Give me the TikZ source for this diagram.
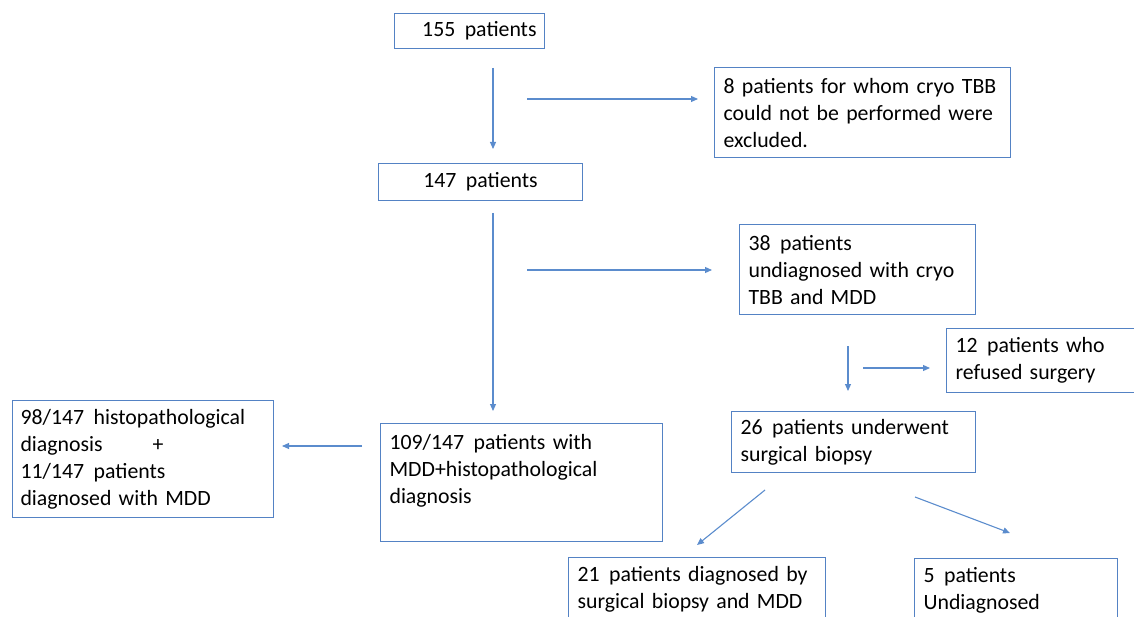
\documentclass[tikz,border=0pt]{standalone}
\usepackage{fontspec}
\setmainfont{Carlito}
\usetikzlibrary{arrows.meta}
\definecolor{boxblue}{RGB}{84,130,196}
\definecolor{arrowblue}{RGB}{91,140,205}
\newcommand{\wgap}{\ \hspace{0.1em}}

\begin{document}
\begin{tikzpicture}[
    x=1pt, y=-1pt,
    flowbox/.style={draw=boxblue, line width=1.1pt, anchor=north west,
                    align=left, inner xsep=8pt, inner ysep=0pt,
                    font=\fontsize{21.8}{27}\selectfont},
    flowarrow/.style={draw=arrowblue, line width=1.1pt,
                      -{Triangle[length=7pt, width=6pt]}}
]
\useasboundingbox (0,0) rectangle (1134,617);
\clip (0,0) rectangle (1134,617);

% boxes
\node[flowbox, text width=134pt, minimum height=35pt, align=right] (all) at (394,13)
    {155\wgap patients};
\node[flowbox, text width=280pt, minimum height=90pt] (excl) at (714,67)
    {\hspace*{1pt}8 patients for whom cryo TBB\\\hspace*{1pt}could not be performed were\\\hspace*{1pt}excluded.};
\node[flowbox, text width=188pt, minimum height=37pt, align=center] (incl) at (378,163)
    {147\wgap patients};
\node[flowbox, text width=220pt, minimum height=90pt] (undiag) at (739,224)
    {\hspace*{1pt}38\wgap patients\\\hspace*{1pt}undiagnosed with cryo\\\hspace*{1pt}TBB and MDD};
\node[flowbox, text width=184pt, minimum height=64pt] (refused) at (946,328)
    {\hspace*{1pt}12\wgap patients who\\\hspace*{1pt}refused surgery};
\node[flowbox, text width=228pt, minimum height=61pt] (surg) at (731,411)
    {\hspace*{1pt}26\wgap patients underwent\\\hspace*{1pt}surgical biopsy};
\node[flowbox, text width=266pt, minimum height=118pt] (diag) at (380,423)
    {\hspace*{1pt}109/147\wgap patients with\\\hspace*{1pt}MDD+histopathological\\\hspace*{1pt}diagnosis\\\mbox{}};
\node[flowbox, text width=245pt, minimum height=117pt] (split) at (12,400)
    {98/147\wgap histopathological\\diagnosis\hspace*{50pt}+\\11/147\wgap patients\\diagnosed with MDD};
\node[flowbox, text width=241pt, minimum height=64pt] (surgdiag) at (568,557)
    {\hspace*{1pt}21\wgap patients diagnosed by\\\hspace*{1pt}surgical biopsy and MDD};
\node[flowbox, text width=187pt, minimum height=64pt] (surgundiag) at (914,558)
    {\hspace*{1pt}5\wgap patients\\\hspace*{1pt}Undiagnosed};

% connector ends
\coordinate (allS) at (493,68);   \coordinate (inclN) at (493,149);
\coordinate (exclA) at (527,99);  \coordinate (exclB) at (698,99);
\coordinate (inclS) at (493,213); \coordinate (diagN) at (493,411);
\coordinate (undA) at (527,270);  \coordinate (undB) at (712,270);
\coordinate (undS) at (848,346);  \coordinate (surgN) at (848,391);
\coordinate (refA) at (863,368);  \coordinate (refB) at (930,368);
\coordinate (diagW) at (362,446); \coordinate (splitE) at (282,446);
\coordinate (surgSW) at (765,490); \coordinate (sdN) at (697,545);
\coordinate (surgSE) at (915,497); \coordinate (suN) at (1010,533);

% connectors
\draw[flowarrow] (allS) -- (inclN);
\draw[flowarrow] (exclA) -- (exclB);
\draw[flowarrow] (inclS) -- (diagN);
\draw[flowarrow] (undA) -- (undB);
\draw[flowarrow] (undS) -- (surgN);
\draw[flowarrow] (refA) -- (refB);
\draw[flowarrow] (diagW) -- (splitE);
\draw[flowarrow] (surgSW) -- (sdN);
\draw[flowarrow] (surgSE) -- (suN);
\end{tikzpicture}
\end{document}
